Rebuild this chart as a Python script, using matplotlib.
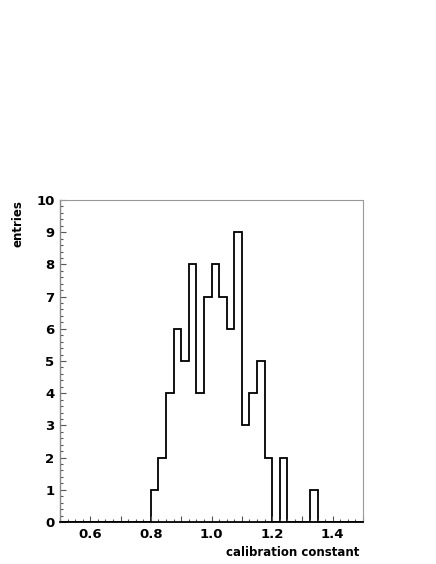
import matplotlib
matplotlib.use("Agg")
import matplotlib.pyplot as plt
import numpy as np
from matplotlib.ticker import MultipleLocator, FuncFormatter

# histogram: 40 bins from 0.5 to 1.5
bin_lo = 0.5
bin_hi = 1.5
n_bins = 40
counts = [0, 0, 0, 0, 0, 0, 0, 0, 0, 0, 0, 0,
          1, 2, 4, 6, 5, 8, 4, 7, 8, 7, 6, 9, 3, 4, 5, 2,
          0, 2, 0, 0, 0, 1, 0, 0, 0, 0, 0, 0]
x_labels = [0.6, 0.8, 1.0, 1.2, 1.4]
x_title = "calibration constant"
y_title = "entries"


def plot_hist():
    fig = plt.figure(figsize=(4.36, 5.64), dpi=100)
    ax = fig.add_axes([60 / 436, 1 - 522 / 564, 303 / 436, 322 / 564])

    edges = np.linspace(bin_lo, bin_hi, n_bins + 1)
    ax.stairs(counts, edges, color="black", linewidth=1.3)

    ax.set_xlim(bin_lo, bin_hi)
    ax.set_ylim(0, 10)

    # ROOT-like ticks: inside, small
    ax.xaxis.set_major_locator(MultipleLocator(0.1))
    ax.xaxis.set_minor_locator(MultipleLocator(0.025))
    ax.xaxis.set_major_formatter(FuncFormatter(
        lambda v, p: f"{v:.1f}" if any(abs(v - t) < 1e-6 for t in x_labels) else ""))
    ax.yaxis.set_major_locator(MultipleLocator(1))
    ax.yaxis.set_minor_locator(MultipleLocator(0.2))
    ax.tick_params(which="both", direction="in", top=False, right=False,
                   colors="#555555", labelcolor="black")
    ax.tick_params(which="major", length=4, width=0.8, labelsize=9.5, pad=4)
    ax.tick_params(which="minor", length=2, width=0.8)
    for lab in ax.get_xticklabels() + ax.get_yticklabels():
        lab.set_fontweight("bold")

    for side in ["top", "right"]:
        ax.spines[side].set_color("#999999")
        ax.spines[side].set_linewidth(0.8)
    ax.spines["left"].set_color("#888888")
    ax.spines["left"].set_linewidth(1.0)
    ax.spines["bottom"].set_color("black")
    ax.spines["bottom"].set_linewidth(1.3)

    fig.text(359 / 436, 1 - 552 / 564, x_title, ha="right", va="center",
             fontsize=8.5, fontweight="bold")
    fig.text(18 / 436, 1 - 200 / 564, y_title, ha="center", va="top",
             rotation=90, fontsize=8.5, fontweight="bold")

    fig.savefig("out.png", dpi=100, facecolor="white")


if __name__ == "__main__":
    plot_hist()
